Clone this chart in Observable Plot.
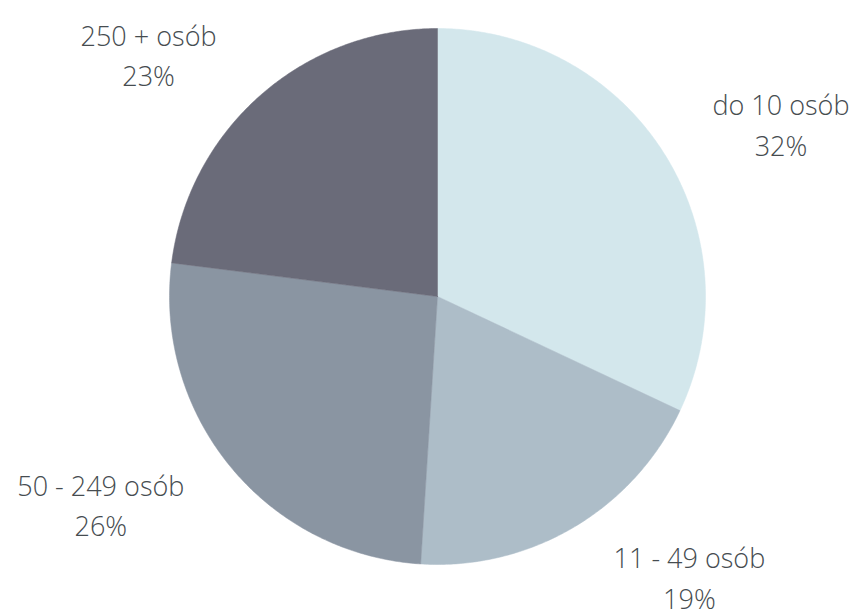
<!DOCTYPE html>
<html>
<head>
<meta charset="utf-8">
<script src="https://cdn.jsdelivr.net/npm/d3@7"></script>
<script src="https://cdn.jsdelivr.net/npm/@observablehq/plot@0.6"></script>
<style>
  html, body { margin: 0; padding: 0; background: #fff; }
</style>
</head>
<body>
<div id="chart"></div>
<script>
const categories = ["do 10 osób", "11 - 49 osób", "50 - 249 osób", "250 + osób"];
const shares = [32, 19, 26, 23];
const colors = ["#d3e7ec", "#adbdc8", "#8a95a2", "#6a6b79"];

const W = 857, H = 612;
const cx = 437, cy = 296, R = 268;
const FONT = "'Open Sans', 'DejaVu Sans', sans-serif";
const FS = 27;
const FW = 300;

const arcs = d3.pie().sort(null).value(d => d)(shares);

// polygon points for each slice (unit circle, y up)
const slicePts = [];
arcs.forEach((a, i) => {
  const key = categories[i];
  slicePts.push({key, x: 0, y: 0});
  const n = Math.max(2, Math.ceil((a.endAngle - a.startAngle) / (Math.PI / 360)));
  for (let k = 0; k <= n; k++) {
    const t = a.startAngle + (a.endAngle - a.startAngle) * k / n;
    slicePts.push({key, x: Math.sin(t), y: Math.cos(t)});
  }
  slicePts.push({key, x: 0, y: 0});
});

// label placement
const ctx = document.createElement("canvas").getContext("2d");
ctx.font = `${FW} ${FS}px ${FONT}`;
const labelData = arcs.map((a, i) => {
  const m = (a.startAngle + a.endAngle) / 2;
  const s = Math.sin(m), c = Math.cos(m);
  const w = ctx.measureText(categories[i]).width;
  return {
    key: categories[i],
    text: categories[i] + "\n" + shares[i] + "%",
    x: 1.1 * s + Math.sign(s) * (w / 2 + 26) / R,
    y: 1.21 * c
  };
});

const chart = Plot.plot({
  width: W,
  height: H,
  margin: 0,
  x: {domain: [-cx / R, (W - cx) / R], axis: null},
  y: {domain: [-(H - cy) / R, cy / R], axis: null},
  color: {domain: categories, range: colors},
  style: {background: "#fff", fontFamily: FONT},
  marks: [
    Plot.line(slicePts, {x: "x", y: "y", z: "key", fill: "key", stroke: "key", strokeWidth: 0.5, curve: "linear"}),
    Plot.text(labelData, {x: "x", y: "y", text: "text", fontSize: FS, fontWeight: FW, lineHeight: 1.5, fill: "#464c50", fontFamily: FONT})
  ]
});
document.getElementById("chart").appendChild(chart);
</script>
</body>
</html>
